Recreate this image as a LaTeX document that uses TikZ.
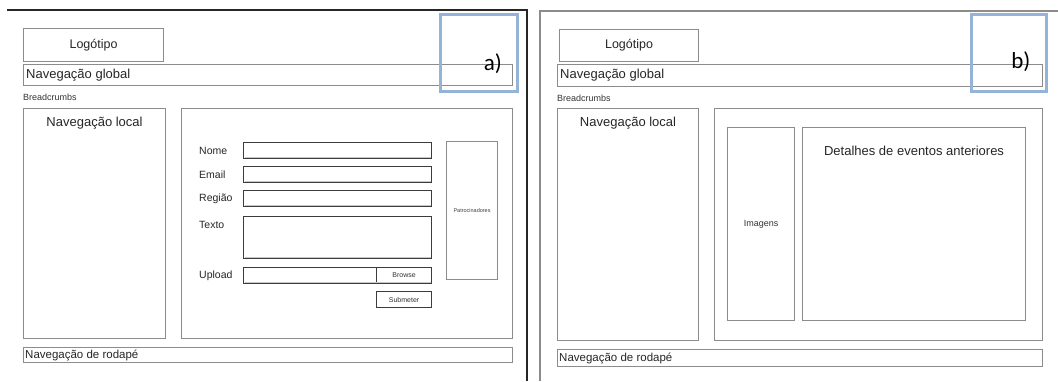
\documentclass[tikz,border=0pt]{standalone}
\usepackage{fontspec}
\setmainfont{Liberation Sans}
\newfontfamily\labelfont{Carlito}
\definecolor{framegray}{HTML}{8C8C8C}
\definecolor{shadegray}{HTML}{C8C8C8}
\definecolor{fielddark}{HTML}{3C3C3C}
\definecolor{tagblue}{HTML}{95B3D7}
\begin{document}
\begin{tikzpicture}[x=1pt,y=-1pt,
  box/.style={draw=framegray,line width=1.1pt,fill=white,inner sep=0pt,anchor=north west},
  field/.style={draw=fielddark,line width=1.1pt,fill=white,inner sep=0pt,anchor=north west},
  tag/.style={draw=tagblue,line width=2.6pt,inner sep=0pt,anchor=north west},
  tagtext/.style={font=\labelfont\fontsize{23}{23}\selectfont,text=black},
  big/.style={font=\fontsize{13}{13}\selectfont,text=black!85,inner sep=0pt},
  logo/.style={font=\fontsize{12.5}{12.5}\selectfont,text=black!85,inner sep=0pt},
  mid/.style={font=\fontsize{10.5}{11}\selectfont,text=black!85,inner sep=0pt},
  foot/.style={font=\fontsize{11.5}{12}\selectfont,text=black!85,inner sep=0pt},
  small/.style={font=\fontsize{9}{9}\selectfont,text=black!80,inner sep=0pt},
  tiny/.style={font=\fontsize{7}{7}\selectfont,text=black!80,inner sep=0pt},
  micro/.style={font=\fontsize{5.5}{6}\selectfont,text=black!75,inner sep=0pt},
  sheetA/.style={draw=black!85,line width=1.8pt},
  sheetB/.style={draw=black!45,line width=1.4pt}]
\useasboundingbox (0,0) rectangle (1058,381);

% ---------- sheet a: contact form page ----------
\draw[sheetA] (7,10) -- (527,10) -- (527,381);

\node[box,minimum width=140pt,minimum height=33pt] (logoA) at (23,28) {};
\node[logo] at (logoA.center) {Logótipo};
\node[box,minimum width=489pt,minimum height=21pt] (navA) at (23,64) {};
\node[big,anchor=west] at ([xshift=3pt]navA.west) {Navegação global};
\node[small,anchor=west] (crumbA) at (23,97) {Breadcrumbs};

\node[box,minimum width=142pt,minimum height=230pt] (localA) at (23,108) {};
\node[big,anchor=north] at ([yshift=-9pt]localA.north) {Navegação local};
\node[box,minimum width=331pt,minimum height=230pt] (mainA) at (181,108) {};

% form fields
\node[field,minimum width=188pt,minimum height=16pt] (nome) at (243,142) {};
\node[field,minimum width=188pt,minimum height=16pt] (email) at (243,166) {};
\node[field,minimum width=188pt,minimum height=16pt] (regiao) at (243,190) {};
\node[field,minimum width=188pt,minimum height=42pt] (texto) at (243,216) {};
\node[field,minimum width=188pt,minimum height=16pt] (upload) at (243,267) {};
\node[field,minimum width=55pt,minimum height=16pt] (browse) at (376,267) {};
\node[field,minimum width=55pt,minimum height=16pt] (submeter) at (376,291) {};
\foreach \f in {nome,email,regiao,texto,upload}
  \draw[shadegray,line width=1pt] ([shift={(1.5pt,1.5pt)}]\f.south west) -- ([shift={(-1.5pt,1.5pt)}]\f.south east);

\node[mid,anchor=west] at ([xshift=-44pt]nome.west) {Nome};
\node[mid,anchor=west] at ([xshift=-44pt]email.west) {Email};
\node[mid,anchor=west] at ([xshift=-44pt]regiao.west) {Região};
\node[mid,anchor=north west] at ([shift={(-44pt,-5pt)}]texto.north west) {Texto};
\node[mid,anchor=west] at ([xshift=-44pt]upload.west) {Upload};
\node[tiny] at (browse.center) {Browse};
\node[tiny] at (submeter.center) {Submeter};

\node[box,minimum width=51pt,minimum height=138pt] (sponsA) at (446,141) {};
\node[micro] at (sponsA.center) {Patrocinadores};

\node[box,minimum width=489pt,minimum height=15pt] (footA) at (23,347) {};
\node[foot,anchor=west] at ([xshift=2pt]footA.west) {Navegação de rodapé};

\node[tag,minimum width=77pt,minimum height=77pt] (tagA) at (439,13) {};
\node[tagtext] at ([shift={(14pt,-11pt)}]tagA.center) {a)};

% ---------- sheet b: past events page ----------
\draw[sheetB] (1058,11) -- (540,11) -- (540,381);

\node[box,minimum width=139pt,minimum height=32pt] (logoB) at (559,29) {};
\node[logo] at (logoB.center) {Logótipo};
\node[box,minimum width=485pt,minimum height=22pt] (navB) at (557,64) {};
\node[big,anchor=west] at ([xshift=3pt]navB.west) {Navegação global};
\node[small,anchor=west] (crumbB) at (557,98) {Breadcrumbs};

\node[box,minimum width=141pt,minimum height=232pt] (localB) at (557,108) {};
\node[big,anchor=north] at ([yshift=-9pt]localB.north) {Navegação local};
\node[box,minimum width=328pt,minimum height=232pt] (mainB) at (714,108) {};

\node[box,minimum width=67pt,minimum height=193pt] (imgB) at (727,127) {};
\node[small] at (imgB.center) {Imagens};
\node[box,minimum width=223pt,minimum height=193pt] (detB) at (802,127) {};
\node[big,anchor=north] at ([yshift=-19pt]detB.north) {Detalhes de eventos anteriores};

\node[box,minimum width=485pt,minimum height=17pt] (footB) at (557,349) {};
\node[foot,anchor=west] at ([xshift=2pt]footB.west) {Navegação de rodapé};

\node[tag,minimum width=75pt,minimum height=77pt] (tagB) at (970,13) {};
\node[tagtext] at ([shift={(12pt,-9pt)}]tagB.center) {b)};
\end{tikzpicture}
\end{document}
